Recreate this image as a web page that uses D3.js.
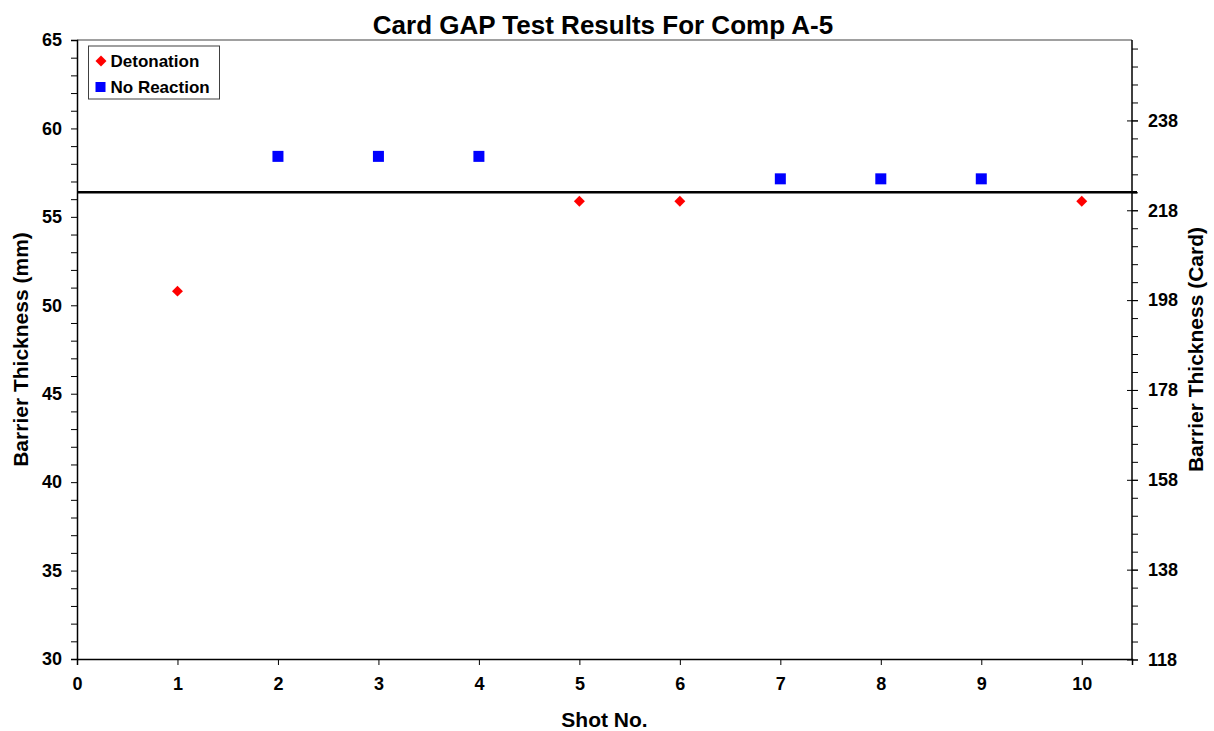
<!DOCTYPE html>
<html>
<head>
<meta charset="utf-8">
<script src="https://cdn.jsdelivr.net/npm/d3@7/dist/d3.min.js"></script>
<style>
  body { margin: 0; background: #fff; }
  svg { display: block; }
  text { font-family: Arial, "Liberation Sans", sans-serif; font-weight: bold; fill: #000; }
  .tick text { font-size: 18px; }
</style>
</head>
<body>
<svg width="1214" height="731"></svg>
<script>
  // data (barrier thickness in cards; 1 card = 0.254 mm)
  const detonationShots = [1, 5, 6, 10];
  const detonationCards = [200, 220, 220, 220];
  const noReactionShots = [2, 3, 4, 7, 8, 9];
  const noReactionCards = [230, 230, 230, 225, 225, 225];
  const thresholdCards = 222;
  const xTicks = [0, 1, 2, 3, 4, 5, 6, 7, 8, 9, 10];
  const mmTicks = [30, 35, 40, 45, 50, 55, 60, 65];
  const cardTicks = [118, 138, 158, 178, 198, 218, 238];
  const cardToMm = 0.254;

  const svg = d3.select("svg");
  const width = +svg.attr("width");
  const height = +svg.attr("height");
  const margin = { top: 40, right: 82, bottom: 72, left: 77 };
  const innerWidth = width - margin.left - margin.right;
  const innerHeight = height - margin.top - margin.bottom;

  const xScale = d3.scaleLinear().domain([0, 10.5]).range([0, innerWidth]);
  const yScale = d3.scaleLinear().domain([30, 65]).range([innerHeight, 0]);
  const cardScale = d3.scaleLinear()
    .domain([30 / cardToMm, 65 / cardToMm])
    .range([innerHeight, 0]);

  const g = svg.append("g")
    .attr("transform", `translate(${margin.left},${margin.top})`);

  // top border
  g.append("line")
    .attr("x1", 0).attr("x2", innerWidth)
    .attr("y1", 0).attr("y2", 0)
    .attr("stroke", "#808080").attr("stroke-width", 1.5);

  // left axis: minor every 1 mm, labels every 5
  const yAxisG = g.append("g").call(d3.axisLeft(yScale)
    .tickValues(d3.range(30, 66, 1))
    .tickSize(6)
    .tickPadding(9));
  yAxisG.selectAll(".tick text").filter(d => !mmTicks.includes(d)).remove();

  // right axis: minor every 4 cards (outside), major every 20 (crossing)
  const rightG = g.append("g").attr("transform", `translate(${innerWidth},0)`);
  rightG.call(d3.axisRight(cardScale)
    .tickValues(d3.range(118, 256, 4))
    .tickSize(6));
  rightG.selectAll(".domain").remove();
  rightG.selectAll(".tick text").remove();
  rightG.append("g").call(d3.axisRight(cardScale)
    .tickValues(cardTicks)
    .tickSize(6)
    .tickPadding(10))
    .call(a => a.selectAll(".domain").remove())
    .call(a => a.selectAll(".tick line").attr("x1", -5));
  rightG.append("line")
    .attr("y1", 0).attr("y2", innerHeight)
    .attr("stroke", "#000").attr("stroke-width", 1.5);

  // bottom axis
  const xAxisG = g.append("g")
    .attr("transform", `translate(0,${innerHeight})`)
    .call(d3.axisBottom(xScale).tickValues(xTicks).tickSize(6).tickPadding(12));

  [yAxisG, xAxisG, rightG].forEach(a => {
    a.selectAll(".domain").attr("stroke-width", 1.5);
    a.selectAll("text").style("font-size", "18px").style("font-family", "Arial, 'Liberation Sans', sans-serif");
  });

  // threshold line
  g.append("line")
    .attr("x1", 0).attr("x2", innerWidth + 5)
    .attr("y1", cardScale(thresholdCards)).attr("y2", cardScale(thresholdCards))
    .attr("stroke", "#000").attr("stroke-width", 2.5);

  // points
  const detonation = detonationShots.map((s, i) => ({ shot: s, card: detonationCards[i] }));
  const noReaction = noReactionShots.map((s, i) => ({ shot: s, card: noReactionCards[i] }));

  g.selectAll(".nr")
    .data(noReaction)
    .enter()
    .append("rect")
    .attr("class", "nr")
    .attr("x", d => xScale(d.shot) - 5.5)
    .attr("y", d => cardScale(d.card) - 5.5)
    .attr("width", 11).attr("height", 11)
    .attr("fill", "#0000ff");

  const diamond = d3.symbol().type(d3.symbolSquare).size(60);
  g.selectAll(".det")
    .data(detonation)
    .enter()
    .append("path")
    .attr("class", "det")
    .attr("d", diamond)
    .attr("transform", d => `translate(${xScale(d.shot)},${cardScale(d.card)}) rotate(45)`)
    .attr("fill", "#ff0000");

  // legend
  const legend = g.append("g").attr("transform", "translate(11.5,6)");
  legend.append("rect")
    .attr("width", 131).attr("height", 53)
    .attr("fill", "#fff").attr("stroke", "#404040").attr("stroke-width", 1);
  legend.append("path")
    .attr("d", diamond)
    .attr("transform", "translate(12.5,15) rotate(45)")
    .attr("fill", "#ff0000");
  legend.append("text").attr("x", 22).attr("y", 21)
    .style("font-size", "17px").text("Detonation");
  legend.append("rect")
    .attr("x", 7).attr("y", 36).attr("width", 10).attr("height", 10)
    .attr("fill", "#0000ff");
  legend.append("text").attr("x", 22).attr("y", 47)
    .style("font-size", "17px").text("No Reaction");

  // titles
  svg.append("text")
    .attr("x", 603).attr("y", 34)
    .attr("text-anchor", "middle")
    .style("font-size", "26px")
    .text("Card GAP Test Results For Comp A-5");

  svg.append("text")
    .attr("x", margin.left + innerWidth / 2).attr("y", 727)
    .attr("text-anchor", "middle")
    .style("font-size", "21px")
    .text("Shot No.");

  svg.append("text")
    .attr("transform", `translate(27.5,${margin.top + innerHeight / 2}) rotate(-90)`)
    .attr("text-anchor", "middle")
    .style("font-size", "21px")
    .text("Barrier Thickness (mm)");

  svg.append("text")
    .attr("transform", `translate(1203,${margin.top + innerHeight / 2}) rotate(-90)`)
    .attr("text-anchor", "middle")
    .style("font-size", "21px")
    .text("Barrier Thickness (Card)");
</script>
</body>
</html>
